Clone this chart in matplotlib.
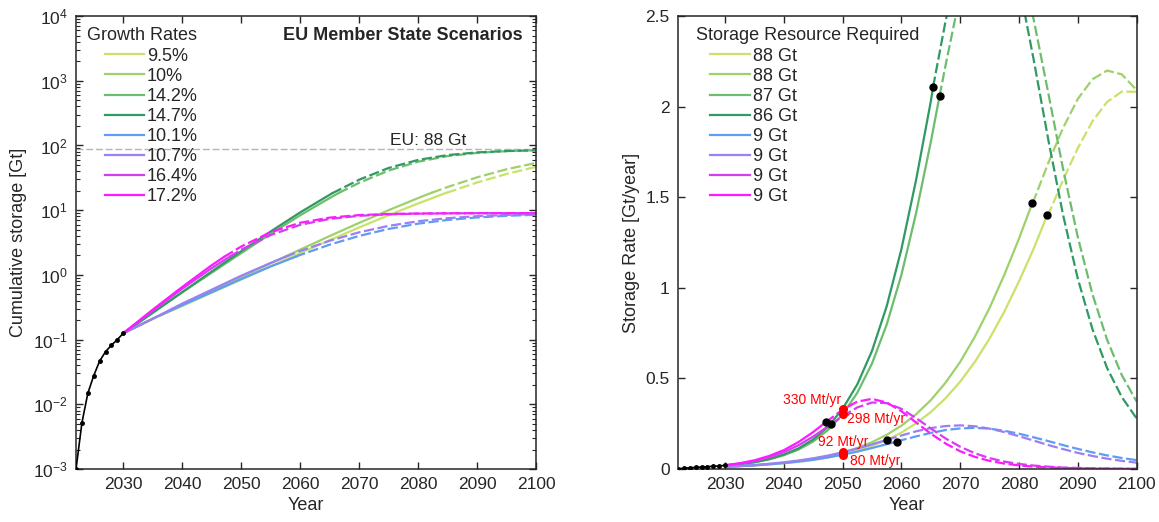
# EU member state CO2 storage scenarios: cumulative storage and storage rate
import numpy as np
import matplotlib.pyplot as plt

plt.rcParams["font.family"] = ["Liberation Sans", "DejaVu Sans"]
plt.rcParams["mathtext.default"] = "regular"

# Scenario labels and colours
growth_labels = ["9.5%", "10%", "14.2%", "14.7%", "10.1%", "10.7%", "16.4%", "17.2%"]
resource_labels = ["88 Gt", "88 Gt", "87 Gt", "86 Gt", "9 Gt", "9 Gt", "9 Gt", "9 Gt"]
colors = ["#c8e26a", "#9fd16b", "#6cbd6c", "#2f9a63",
          "#5d9df4", "#9b7ff4", "#d43df3", "#ff1aff"]

# Historical (2022-2030)
hist_years = [2022, 2023, 2024, 2025, 2026, 2027, 2028, 2029, 2030]
hist_cum = [0.001, 0.0052, 0.0148, 0.0277, 0.0466, 0.065, 0.082, 0.100, 0.125]
hist_rate = [0.002, 0.004, 0.007, 0.009, 0.011, 0.013, 0.015, 0.017, 0.020]

# Cumulative storage [Gt], 2030-2100 every 5 years
cum_years = [2030, 2035, 2040, 2045, 2050, 2055, 2060, 2065, 2070,
             2075, 2080, 2085, 2090, 2095, 2100]
cum_95 = [0.125, 0.21, 0.33, 0.53, 0.85, 1.36, 2.17, 3.44, 5.40, 8.38, 12.7, 18.8, 26.8, 36.3, 46.7]
cum_10 = [0.125, 0.21, 0.34, 0.56, 0.92, 1.51, 2.46, 3.98, 6.37, 10.0, 15.4, 22.8, 32.2, 42.9, 53.7]
cum_142 = [0.125, 0.26, 0.54, 1.08, 2.17, 4.31, 8.34, 15.4, 26.5, 41.0, 56.1, 68.5, 76.8, 81.7, 84.3]
cum_147 = [0.125, 0.26, 0.54, 1.13, 2.32, 4.69, 9.24, 17.3, 29.6, 44.9, 59.8, 71.0, 78.1, 82.0, 84.1]
cum_101 = [0.125, 0.21, 0.34, 0.54, 0.86, 1.35, 2.03, 2.93, 4.00, 5.13, 6.19, 7.06, 7.72, 8.18, 8.49]
cum_107 = [0.125, 0.21, 0.36, 0.59, 0.97, 1.53, 2.34, 3.37, 4.55, 5.72, 6.74, 7.52, 8.07, 8.43, 8.66]
cum_164 = [0.125, 0.28, 0.61, 1.27, 2.45, 4.13, 5.93, 7.33, 8.18, 8.62, 8.83, 8.92, 8.97, 8.99, 8.99]
cum_172 = [0.125, 0.29, 0.65, 1.41, 2.74, 4.58, 6.39, 7.67, 8.39, 8.73, 8.88, 8.95, 8.98, 8.99, 9.00]

# Storage rate [Gt/year], 2030-2100 every 2.5 years
rate_years = [2030, 2032.5, 2035, 2037.5, 2040, 2042.5, 2045, 2047.5, 2050, 2052.5,
              2055, 2057.5, 2060, 2062.5, 2065, 2067.5, 2070, 2072.5, 2075, 2077.5,
              2080, 2082.5, 2085, 2087.5, 2090, 2092.5, 2095, 2097.5, 2100]
rate_95 = [0.012, 0.016, 0.020, 0.025, 0.032, 0.040, 0.050, 0.064, 0.080, 0.101,
           0.128, 0.160, 0.201, 0.252, 0.314, 0.390, 0.482, 0.591, 0.720, 0.868,
           1.035, 1.216, 1.404, 1.595, 1.770, 1.919, 2.026, 2.083, 2.082]
rate_10 = [0.013, 0.016, 0.021, 0.027, 0.034, 0.044, 0.056, 0.071, 0.091, 0.116,
           0.148, 0.189, 0.239, 0.302, 0.380, 0.476, 0.591, 0.730, 0.889, 1.071,
           1.271, 1.481, 1.690, 1.882, 2.042, 2.151, 2.199, 2.178, 2.092]
rate_142 = [0.019, 0.026, 0.037, 0.053, 0.076, 0.107, 0.152, 0.215, 0.301, 0.421,
            0.582, 0.797, 1.071, 1.412, 1.804, 2.225, 2.620, 2.926, 3.080, 3.045,
            2.831, 2.482, 2.073, 1.657, 1.282, 0.965, 0.713, 0.518, 0.373]
rate_147 = [0.019, 0.027, 0.038, 0.055, 0.080, 0.114, 0.163, 0.233, 0.332, 0.467,
            0.652, 0.898, 1.213, 1.595, 2.028, 2.469, 2.852, 3.099, 3.154, 3.002,
            2.679, 2.260, 1.816, 1.403, 1.052, 0.772, 0.557, 0.397, 0.280]
rate_101 = [0.012, 0.016, 0.020, 0.026, 0.033, 0.041, 0.051, 0.064, 0.079, 0.096,
            0.116, 0.137, 0.159, 0.180, 0.199, 0.215, 0.224, 0.227, 0.223, 0.211,
            0.195, 0.175, 0.154, 0.132, 0.111, 0.092, 0.075, 0.061, 0.049]
rate_107 = [0.013, 0.017, 0.022, 0.029, 0.037, 0.047, 0.059, 0.074, 0.092, 0.113,
            0.136, 0.161, 0.185, 0.208, 0.226, 0.237, 0.241, 0.236, 0.223, 0.204,
            0.181, 0.157, 0.132, 0.110, 0.089, 0.072, 0.057, 0.045, 0.035]
rate_164 = [0.020, 0.030, 0.044, 0.065, 0.093, 0.131, 0.179, 0.235, 0.292, 0.340,
            0.367, 0.364, 0.332, 0.281, 0.224, 0.169, 0.123, 0.087, 0.060, 0.041,
            0.028, 0.019, 0.013, 0.008, 0.006, 0.004, 0.003, 0.002, 0.001]
rate_172 = [0.021, 0.032, 0.048, 0.072, 0.104, 0.149, 0.204, 0.267, 0.328, 0.372,
            0.387, 0.367, 0.319, 0.257, 0.195, 0.141, 0.098, 0.067, 0.045, 0.030,
            0.020, 0.013, 0.009, 0.006, 0.004, 0.002, 0.002, 0.001, 0.001]

# Point where each curve switches from solid to dashed (black dots on the rate plot)
dot_year = [2084.8, 2082.3, 2066.5, 2065.4, 2059.2, 2057.5, 2048.0, 2047.1]
dot_rate = [1.40, 1.47, 2.06, 2.11, 0.151, 0.161, 0.246, 0.258]
dot_cum = [18.6, 18.6, 18.4, 18.2, 1.90, 1.90, 1.90, 1.90]

# 2050 rates highlighted in red
red_year = [2050, 2050, 2050, 2050]
red_rate = [0.329, 0.301, 0.092, 0.080]
red_text = ["330 Mt/yr", "298 Mt/yr", "92 Mt/yr", "80 Mt/yr"]

EU_TOTAL = 88

cum_all = [cum_95, cum_10, cum_142, cum_147, cum_101, cum_107, cum_164, cum_172]
rate_all = [rate_95, rate_10, rate_142, rate_147, rate_101, rate_107, rate_164, rate_172]

AX_COL = "#262626"
LW = 1.6
DASH = (4.6, 1.6)


def split(xs, ys, bx, by):
    xs, ys = np.asarray(xs, float), np.asarray(ys, float)
    m = xs < bx
    return (np.append(xs[m], bx), np.append(ys[m], by),
            np.insert(xs[~m], 0, bx), np.insert(ys[~m], 0, by))


def style(ax):
    ax.tick_params(direction="in", top=True, right=True, length=5, width=1,
                   colors=AX_COL, labelsize=12.5, pad=6)
    ax.tick_params(which="minor", direction="in", top=False, right=True, length=3, width=0.8,
                   colors=AX_COL)
    for s in ax.spines.values():
        s.set_color(AX_COL)
        s.set_linewidth(1.1)
    ax.set_xlim(2022, 2100)
    ax.set_xticks(range(2030, 2101, 10))
    ax.set_xlabel("Year", fontsize=13, color=AX_COL, labelpad=3)


def legend(ax, handles, x0):
    ax.legend(handles=handles, loc="upper left", bbox_to_anchor=(x0, 0.930),
              frameon=False, fontsize=13, handlelength=2.2, handletextpad=0.15,
              labelspacing=0.17, borderpad=0, borderaxespad=0, labelcolor=AX_COL)


fig = plt.figure(figsize=(11.59, 5.22), dpi=100)
ax1 = fig.add_axes([0.0656, 0.1015, 0.397, 0.8678])
ax2 = fig.add_axes([0.585, 0.1015, 0.3956, 0.8678])

# Left: cumulative storage (log scale)
ax1.set_yscale("log")
ax1.axhline(EU_TOTAL, color="#b5b5b5", lw=1.0, dashes=(5, 2), zorder=1)
ax1.text(2075.3, EU_TOTAL * 1.05, "EU: 88 Gt", fontsize=12.5, color=AX_COL, va="bottom")
ax1.plot(hist_years, hist_cum, color="black", lw=1.2, marker="o", ms=2.5, zorder=5)
handles = []
for i in range(8):
    sx, sy, dx, dy = split(cum_years, cum_all[i], dot_year[i], dot_cum[i])
    h, = ax1.plot(sx, sy, color=colors[i], lw=LW, label=growth_labels[i])
    ax1.plot(dx, dy, color=colors[i], lw=LW, dashes=DASH)
    handles.append(h)
ax1.set_ylim(1e-3, 1e4)
ax1.set_yticks([1e-3, 1e-2, 1e-1, 1e0, 1e1, 1e2, 1e3, 1e4])
style(ax1)
ax1.set_ylabel("Cumulative storage [Gt]", fontsize=13, color=AX_COL)
ax1.text(0.024, 0.958, "Growth Rates", transform=ax1.transAxes, fontsize=13,
         color=AX_COL, va="center")
ax1.text(0.970, 0.958, "EU Member State Scenarios", transform=ax1.transAxes,
         fontsize=13, fontweight="bold", color=AX_COL, va="center", ha="right")
legend(ax1, handles, 0.062)

# Right: storage rate
ax2.plot(hist_years, hist_rate, color="black", lw=1.2, marker="o", ms=2.5, zorder=5)
handles = []
for i in range(8):
    sx, sy, dx, dy = split(rate_years, rate_all[i], dot_year[i], dot_rate[i])
    h, = ax2.plot(sx, sy, color=colors[i], lw=LW, label=resource_labels[i])
    ax2.plot(dx, dy, color=colors[i], lw=LW, dashes=DASH)
    handles.append(h)
ax2.plot(dot_year, dot_rate, "o", color="black", ms=5, zorder=6)
ax2.plot(red_year, red_rate, "o", color="red", ms=5.5, zorder=7)
ax2.text(2049.8, 0.38, red_text[0], color="red", fontsize=10, ha="right", va="center")
ax2.text(2050.7, 0.275, red_text[1], color="red", fontsize=10, ha="left", va="center")
ax2.text(2045.8, 0.15, red_text[2], color="red", fontsize=10, ha="left", va="center")
ax2.text(2051.2, 0.044, red_text[3], color="red", fontsize=10, ha="left", va="center")
ax2.set_ylim(0, 2.5)
ax2.set_yticks([0, 0.5, 1, 1.5, 2, 2.5])
ax2.set_yticklabels(["0", "0.5", "1", "1.5", "2", "2.5"])
style(ax2)
ax2.set_ylabel("Storage Rate [Gt/year]", fontsize=13, color=AX_COL)
ax2.text(0.039, 0.958, "Storage Resource Required", transform=ax2.transAxes,
         fontsize=13, color=AX_COL, va="center")
legend(ax2, handles, 0.070)

fig.savefig("out.png", dpi=100)
